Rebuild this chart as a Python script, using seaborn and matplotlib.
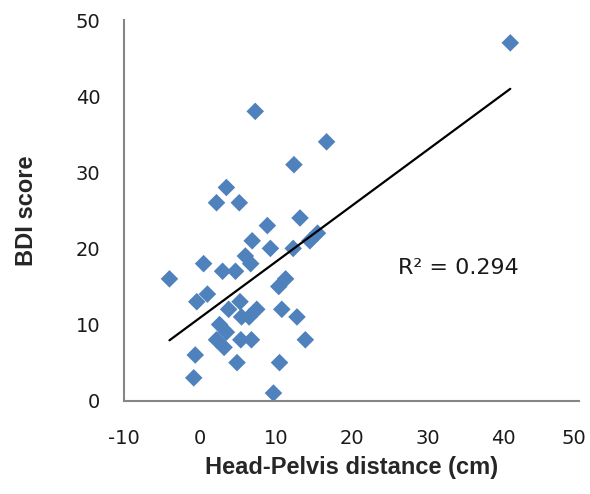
import matplotlib
matplotlib.use("Agg")
import matplotlib.pyplot as plt
import matplotlib.transforms as mtransforms
import seaborn as sns
import numpy as np
import pandas as pd

head_pelvis = [-4.0, -0.8, -0.6, -0.4, 1.0, 0.5, 2.2, 3.5, 5.2, 3.0, 4.7, 6.0, 6.7, 6.9,
               8.9, 9.3, 7.3, 12.4, 13.2, 16.7, 40.9, 15.5, 14.5, 12.3, 11.3, 10.4, 3.8,
               5.3, 5.5, 6.5, 7.5, 10.8, 12.8, 2.6, 3.5, 2.2, 3.2, 5.4, 6.8, 13.9, 4.9,
               10.5, 9.7]
bdi_score = [16, 3, 6, 13, 14, 18, 26, 28, 26, 17, 17, 19, 18, 21,
             23, 20, 38, 31, 24, 34, 47, 22, 21, 20, 16, 15, 12,
             13, 11, 11, 12, 12, 11, 10, 9, 8, 7, 8, 8, 8, 5,
             5, 1]
x_ticks = [-10, 0, 10, 20, 30, 40, 50]
y_ticks = [0, 10, 20, 30, 40, 50]
r2_label = "R\u00b2 = 0.294"

df = pd.DataFrame({"x": head_pelvis, "y": bdi_score})

sns.set_style("white")
plt.rcParams["font.family"] = ["Liberation Sans", "DejaVu Sans"]

fig = plt.figure(figsize=(5.9, 4.94), dpi=100)
ax = fig.add_axes([0.210, 0.1889, 0.772, 0.7706])

sns.regplot(data=df, x="x", y="y", ax=ax, ci=None, marker="D", truncate=True,
            scatter_kws=dict(s=80, color="#4F81BD", edgecolor="none", alpha=1, zorder=2),
            line_kws=dict(color="black", lw=1.6, zorder=3))

ax.set_xlim(-10, 50)
ax.set_ylim(0, 50)
ax.set_xticks(x_ticks)
ax.set_yticks(y_ticks)
ax.set_xticklabels([str(t) for t in x_ticks], family="DejaVu Sans")
ax.set_yticklabels([str(t) for t in y_ticks], family="DejaVu Sans")

for s in ["top", "right"]:
    ax.spines[s].set_visible(False)
for s in ["left", "bottom"]:
    ax.spines[s].set_color("#868686")
    ax.spines[s].set_linewidth(1.5)
ax.tick_params(axis="both", direction="out", length=6, width=1.5, color="#868686",
               labelsize=14, labelcolor="#1a1a1a")
ax.tick_params(axis="x", pad=14.5)
ax.tick_params(axis="y", pad=11)
ax.grid(False)

# keep the last x tick label inside the canvas
last = ax.get_xticklabels()[-1]
last.set_transform(last.get_transform() +
                   mtransforms.ScaledTranslation(-4 / 72, 0, fig.dpi_scale_trans))

ax.set_xlabel("Head-Pelvis distance (cm)", fontsize=17, fontweight="bold", labelpad=6)
ax.set_ylabel("BDI score", fontsize=17, fontweight="bold", labelpad=27)

ax.text(26.1, 17.4, r2_label, fontsize=16, color="#1a1a1a", ha="left", va="center",
        family="DejaVu Sans")

fig.savefig("out.png", dpi=100)
